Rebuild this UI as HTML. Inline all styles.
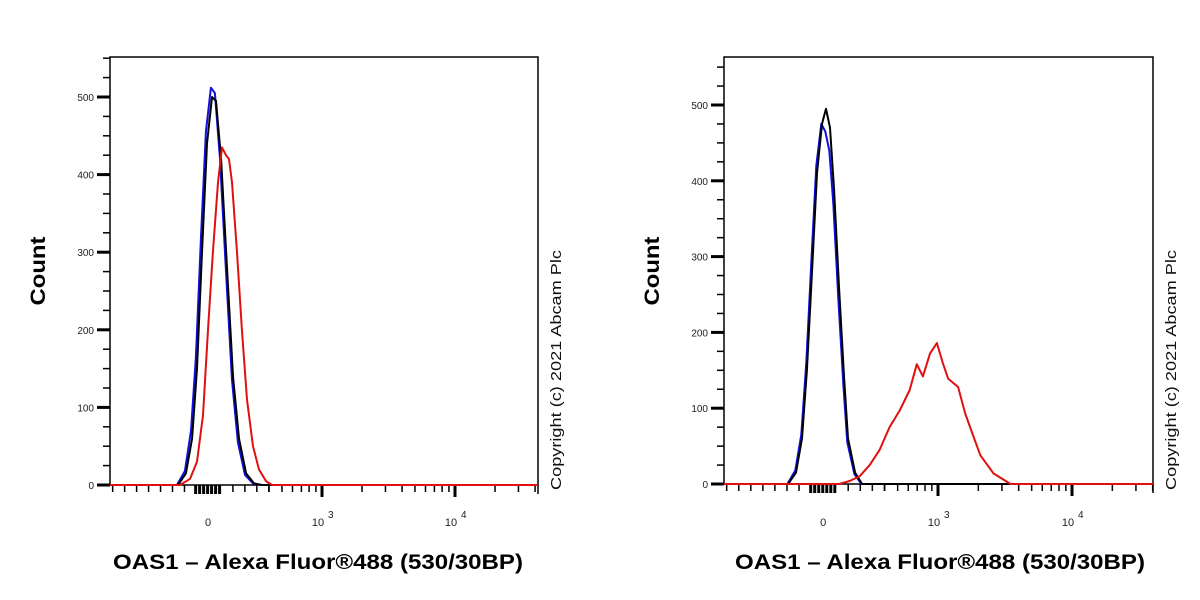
<!DOCTYPE html>
<html><head><meta charset="utf-8"><style>
body{margin:0;background:#fff;width:1200px;height:600px;overflow:hidden}
svg{display:block;font-family:"Liberation Sans",sans-serif}
</style></head><body>
<svg id="c" width="1200" height="600"></svg>
<script>
// Data: x in display units (log-like axis: 10^3 -> 3, 10^4 -> 4), y = count
const leftBlackX = [1.917,1.977,2.023,2.060,2.098,2.135,2.173,2.203,2.241,2.286,2.331,2.376,2.429,2.489,2.549];
const leftBlackY = [0,15,60,150,300,440,500,495,420,280,140,60,15,2,0];
const leftBlueX = [1.909,1.969,2.015,2.052,2.090,2.127,2.165,2.195,2.233,2.278,2.323,2.368,2.421,2.481,2.541];
const leftBlueY = [0,18,70,165,320,455,512,505,420,275,135,55,13,2,0];
const leftRedX = [1.932,2.008,2.060,2.105,2.143,2.180,2.218,2.248,2.278,2.301,2.323,2.361,2.398,2.436,2.481,2.526,2.579,2.624];
const leftRedY = [0,8,30,90,200,300,390,435,425,420,390,300,200,110,50,20,5,0];
const rightBlackX = [1.881,1.940,1.985,2.022,2.060,2.097,2.134,2.164,2.194,2.224,2.261,2.299,2.328,2.381,2.433];
const rightBlackY = [0,15,60,150,280,410,475,495,470,390,260,140,60,15,0];
const rightBlueX = [1.876,1.935,1.980,2.017,2.055,2.092,2.129,2.159,2.189,2.219,2.256,2.294,2.323,2.376,2.428];
const rightBlueY = [0,18,65,160,295,420,475,465,440,370,245,130,55,13,0];
const rightRedX = [2.263,2.340,2.414,2.490,2.564,2.639,2.714,2.789,2.842,2.887,2.940,2.992,3.035,3.075,3.150,3.203,3.260,3.316,3.414,3.541];
const rightRedY = [0,4,10,25,45,75,97,124,158,142,172,186,160,139,128,93,65,38,14,0];
const yTicks = [0,100,200,300,400,500];
const xTickLabels = ["0","10","10"];
const xTickVals = [2.143,3,4];

const NS="http://www.w3.org/2000/svg";
const svg=document.getElementById('c');
function mk(t,a,p){const e=document.createElementNS(NS,t);for(const k in a)e.setAttribute(k,a[k]);(p||svg).appendChild(e);return e;}

function panel(cfg){
  const g=mk('g',{});
  
  
  const X=u=>cfg.x0+(u-3)*cfg.dec;
  const Y=v=>cfg.y0-v*cfg.ppc;
  const uMin=3+(cfg.L-cfg.x0)/cfg.dec, uMax=3+(cfg.R-cfg.x0)/cfg.dec;
  const frame=mk('rect',{x:cfg.L,y:57,width:cfg.R-cfg.L,height:cfg.y0-57,fill:'none',stroke:'#000','stroke-width':1.5},g);
  
  
  for(let v=0;v<=550;v+=25){
    const y=Y(v);if(y<58)continue;
    const maj=v%100===0;
    mk('line',{x1:maj?cfg.L-13:cfg.L-7,x2:cfg.L,y1:y,y2:y,stroke:'#000','stroke-width':maj?3:1.5},g);
  }
  yTicks.forEach(v=>{
    const t=mk('text',{x:cfg.L-16,y:Y(v)+4,'text-anchor':'end','font-size':10,fill:'#222'},g);
    t.textContent=v;
    
    
  });
  const tk=[];
  for(let u=uMin+0.02;u<2.0;u+=0.09)tk.push([u,7,1.5]);
  for(let u=2.05;u<2.25;u+=0.03)tk.push([u,9,3]);
  for(let u=2.33;u<2.6;u+=0.09)tk.push([u,7,1.5]);
  for(let d=2;d<=4;d++)for(let m=(d===2?4:2);m<=9;m++)tk.push([Math.log10(m*Math.pow(10,d)),7,1.5]);
  tk.push([3,12,3]);tk.push([4,12,3]);
  tk.forEach(([u,l,w])=>{if(u>uMax+0.005)return;mk('line',{x1:X(u),x2:X(u),y1:cfg.y0,y2:cfg.y0+l,stroke:'#000','stroke-width':w},g);});
  mk('line',{x1:cfg.R,x2:cfg.R,y1:cfg.y0,y2:cfg.y0+9,stroke:'#000','stroke-width':1.5},g);
  xTickVals.forEach((u,i)=>{
    const t=mk('text',{x:X(u)-(i?4:0),y:526,'text-anchor':'middle','font-size':11,fill:'#222'},g);
    t.textContent=xTickLabels[i];
    
    
    if(i){const s=mk('text',{x:X(u)+6,y:518,'font-size':10,fill:'#222'},g);s.textContent=i===1?'3':'4';}
  });
  cfg.series.forEach(s=>{
    const pts=[[uMin,0]].concat(s.x.map((u,i)=>[u,s.y[i]])).concat([[uMax,0]]);
    const p=mk('polyline',{points:pts.map(q=>X(q[0]).toFixed(1)+','+Y(q[1]).toFixed(1)).join(' '),fill:'none',stroke:s.c,'stroke-width':2,'stroke-linejoin':'round'},g);
    
    
  });
  const yl=mk('text',{x:0,y:0,transform:`translate(${cfg.L-65},${271}) rotate(-90)`,'text-anchor':'middle','font-size':21,'font-weight':'bold',textLength:69,lengthAdjust:'spacingAndGlyphs'},g);
  yl.textContent='Count';
  
  
  const xl=mk('text',{x:cfg.tc,y:569,'text-anchor':'middle','font-size':21,'font-weight':'bold',textLength:410,lengthAdjust:'spacingAndGlyphs'},g);
  xl.textContent='OAS1 \u2013 Alexa Fluor\u00AE488 (530/30BP)';
  
  
  const cp=mk('text',{x:0,y:0,transform:`translate(${cfg.R+23},${490}) rotate(-90)`,'font-size':15,fill:'#111',textLength:240,lengthAdjust:'spacingAndGlyphs'},g);
  cp.textContent='Copyright (c) 2021 Abcam Plc';
  
  
}
panel({name:'left-histogram',L:110,R:538,x0:322,dec:133,y0:485,ppc:0.776,tc:318,series:[
  {n:'left-blue-series',c:'#1010e0',x:leftBlueX,y:leftBlueY},
  {n:'left-black-series',c:'#000',x:leftBlackX,y:leftBlackY},
  {n:'left-red-series',c:'#e01010',x:leftRedX,y:leftRedY}]});
panel({name:'right-histogram',L:724,R:1153,x0:938,dec:134,y0:484,ppc:0.758,tc:940,series:[
  {n:'right-blue-series',c:'#1010e0',x:rightBlueX,y:rightBlueY},
  {n:'right-black-series',c:'#000',x:rightBlackX,y:rightBlackY},
  {n:'right-red-series',c:'#e01010',x:rightRedX,y:rightRedY}]});
</script>
</body></html>
